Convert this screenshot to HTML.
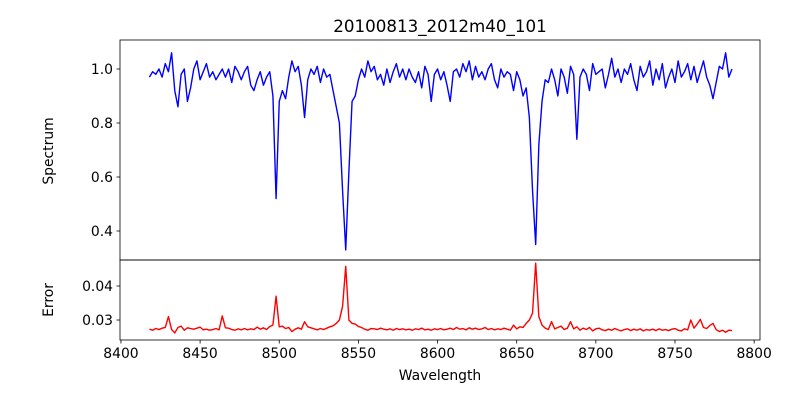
<!DOCTYPE html>
<html><head><meta charset="utf-8"><style>
html,body{margin:0;padding:0;background:#fff}
svg{display:block;font-family:"DejaVu Sans","Liberation Sans",sans-serif}
</style></head><body>
<svg id="chart" width="800" height="400" viewBox="0 0 800 400">
<rect width="800" height="400" fill="#fff"/>
<text x="440" y="32" font-size="16.7" text-anchor="middle">20100813_2012m40_101</text>
<g id="top"></g>
<g id="bot"></g>
<text x="440" y="380" font-size="13.9" text-anchor="middle">Wavelength</text>
<text transform="translate(53,151) rotate(-90)" font-size="13.9" text-anchor="middle">Spectrum</text>
<text transform="translate(53,300) rotate(-90)" font-size="13.9" text-anchor="middle">Error</text>
</svg>
<script>
const wlStart = 8418, wlStep = 2;
const spectrum = [
0.97,0.99,0.98,1.00,0.97, 1.02,0.99,1.06,0.92,0.86, 0.98,1.00,0.88,0.93,1.00, 1.03,0.96,0.99,1.02,0.97,
0.99,0.96,0.98,1.00,0.97, 1.00,0.95,1.01,0.99,0.96, 0.99,1.01,0.94,0.92,0.96, 0.99,0.94,0.97,0.99,0.90,
0.52,0.88,0.92,0.89,0.97, 1.03,0.99,1.01,0.94,0.82, 0.96,1.00,0.98,1.01,0.95, 1.00,0.97,0.98,0.92,0.86,
0.80,0.55,0.33,0.62,0.88, 0.90,0.96,1.00,0.97,1.03, 0.99,1.01,0.96,0.98,0.94, 1.00,0.95,0.99,1.02,0.97,
1.00,0.96,1.00,0.97,0.95, 0.99,0.93,1.01,0.98,0.88, 0.98,1.00,0.96,0.99,0.94, 0.88,0.99,1.00,0.97,1.02,
0.99,1.03,0.96,1.01,0.97, 0.99,0.96,1.00,1.02,0.96, 0.93,1.00,0.97,0.99,0.98, 0.92,0.99,0.96,0.90,0.93,
0.82,0.55,0.35,0.72,0.88, 0.96,0.95,1.00,0.96,0.90, 1.00,0.97,0.91,1.01,0.98, 0.74,0.97,1.00,0.98,0.92,
1.02,0.98,0.99,1.00,0.93, 0.98,1.04,0.97,1.00,0.95, 1.00,0.98,1.02,0.96,0.92, 1.01,0.97,0.99,1.03,0.94,
1.00,0.96,1.02,0.93,0.97, 1.00,0.95,1.03,0.97,0.99, 1.02,0.96,1.01,0.95,0.99, 1.03,0.97,0.94,0.89,0.95,
1.01,1.00,1.06,0.97,1.00];
const errors = [
.0273,.0270,.0275,.0272,.0276, .0278,.0310,.0272,.0262,.0278, .0282,.0270,.0277,.0275,.0273, .0276,.0279,.0271,.0273,.0270,
.0272,.0275,.0271,.0312,.0277, .0276,.0272,.0270,.0274,.0271, .0275,.0271,.0274,.0272,.0279, .0273,.0277,.0272,.0281,.0285,
.0370,.0280,.0282,.0275,.0278, .0266,.0273,.0277,.0273,.0295, .0280,.0277,.0274,.0271,.0275, .0272,.0276,.0280,.0283,.0290,
.0300,.0340,.0458,.0300,.0290, .0288,.0281,.0278,.0273,.0270, .0275,.0274,.0272,.0276,.0273, .0271,.0274,.0270,.0275,.0272,
.0274,.0271,.0273,.0270,.0274, .0272,.0276,.0271,.0273,.0270, .0274,.0272,.0275,.0271,.0273, .0276,.0272,.0278,.0273,.0275,
.0271,.0277,.0273,.0276,.0272, .0274,.0278,.0272,.0275,.0271, .0274,.0272,.0276,.0273,.0270, .0285,.0274,.0280,.0278,.0290,
.0300,.0320,.0467,.0310,.0285, .0276,.0272,.0295,.0274,.0278, .0282,.0272,.0276,.0295,.0274, .0280,.0270,.0276,.0272,.0278,
.0268,.0274,.0276,.0271,.0269, .0273,.0270,.0275,.0271,.0268, .0272,.0274,.0269,.0273,.0270, .0274,.0268,.0272,.0270,.0273,
.0269,.0274,.0270,.0272,.0269, .0273,.0275,.0270,.0268,.0274, .0271,.0300,.0276,.0288,.0302, .0278,.0275,.0284,.0290,.0272,
.0266,.0270,.0264,.0270,.0269];
const xTicks = [8400,8450,8500,8550,8600,8650,8700,8750,8800];
const topTicks = [0.4,0.6,0.8,1.0];
const botTicks = [0.03,0.04];

const NS = "http://www.w3.org/2000/svg";
const L = 120, R = 760;
const xMin = 8399.4, xMax = 8803.7;
const x = v => L + (v - xMin) / (xMax - xMin) * (R - L);
const T = {top:40, bot:260, min:0.2926, max:1.1074};
const B = {top:260, bot:340, min:0.02412, max:0.04765};
const yT = v => T.bot - (v - T.min) / (T.max - T.min) * (T.bot - T.top);
const yB = v => B.bot - (v - B.min) / (B.max - B.min) * (B.bot - B.top);
function mk(tag, attrs, parent){const e=document.createElementNS(NS,tag);for(const k in attrs)e.setAttribute(k,attrs[k]);parent.appendChild(e);return e;}
const gT = document.getElementById('top'), gB = document.getElementById('bot');

function line(arr, yf, color, g, name){
  const d = arr.map((v,i)=>(i?'L':'M')+x(wlStart+i*wlStep).toFixed(2)+','+yf(v).toFixed(2)).join('');
  const p = mk('path',{d:d,fill:'none',stroke:color,'stroke-width':1.4,'stroke-linejoin':'round'},g);
  
  
}
line(spectrum, yT, '#0000ff', gT, 'spectrum-line');
line(errors, yB, '#ff0000', gB, 'error-line');

function yTicks(ticks, yf, g, fmt, nm){
  ticks.forEach(t=>{
    const y=yf(t);
    const l = mk('line',{x1:L-3.5,x2:L,y1:y,y2:y,stroke:'#000','stroke-width':0.8},g);
    
    
    const tx = mk('text',{x:L-7,y:y+5,'font-size':13.9,'text-anchor':'end'},g);
    tx.textContent = fmt(t);
    
    
  });
}
yTicks(topTicks, yT, gT, t=>t.toFixed(1), 'spectrum-y');
yTicks(botTicks, yB, gB, t=>t.toFixed(2), 'error-y');
xTicks.forEach(t=>{
  const xx=x(t);
  const l = mk('line',{x1:xx,x2:xx,y1:B.bot,y2:B.bot+3.5,stroke:'#000','stroke-width':0.8},gB);
  
  
  const tx = mk('text',{x:xx,y:B.bot+18,'font-size':13.9,'text-anchor':'middle'},gB);
  tx.textContent = t;
  
  
});
const f1 = mk('rect',{x:L,y:T.top,width:R-L,height:T.bot-T.top,fill:'none',stroke:'#000','stroke-width':0.8},gT);


const f2 = mk('rect',{x:L,y:B.top,width:R-L,height:B.bot-B.top,fill:'none',stroke:'#000','stroke-width':0.8},gB);


</script>
</body></html>
